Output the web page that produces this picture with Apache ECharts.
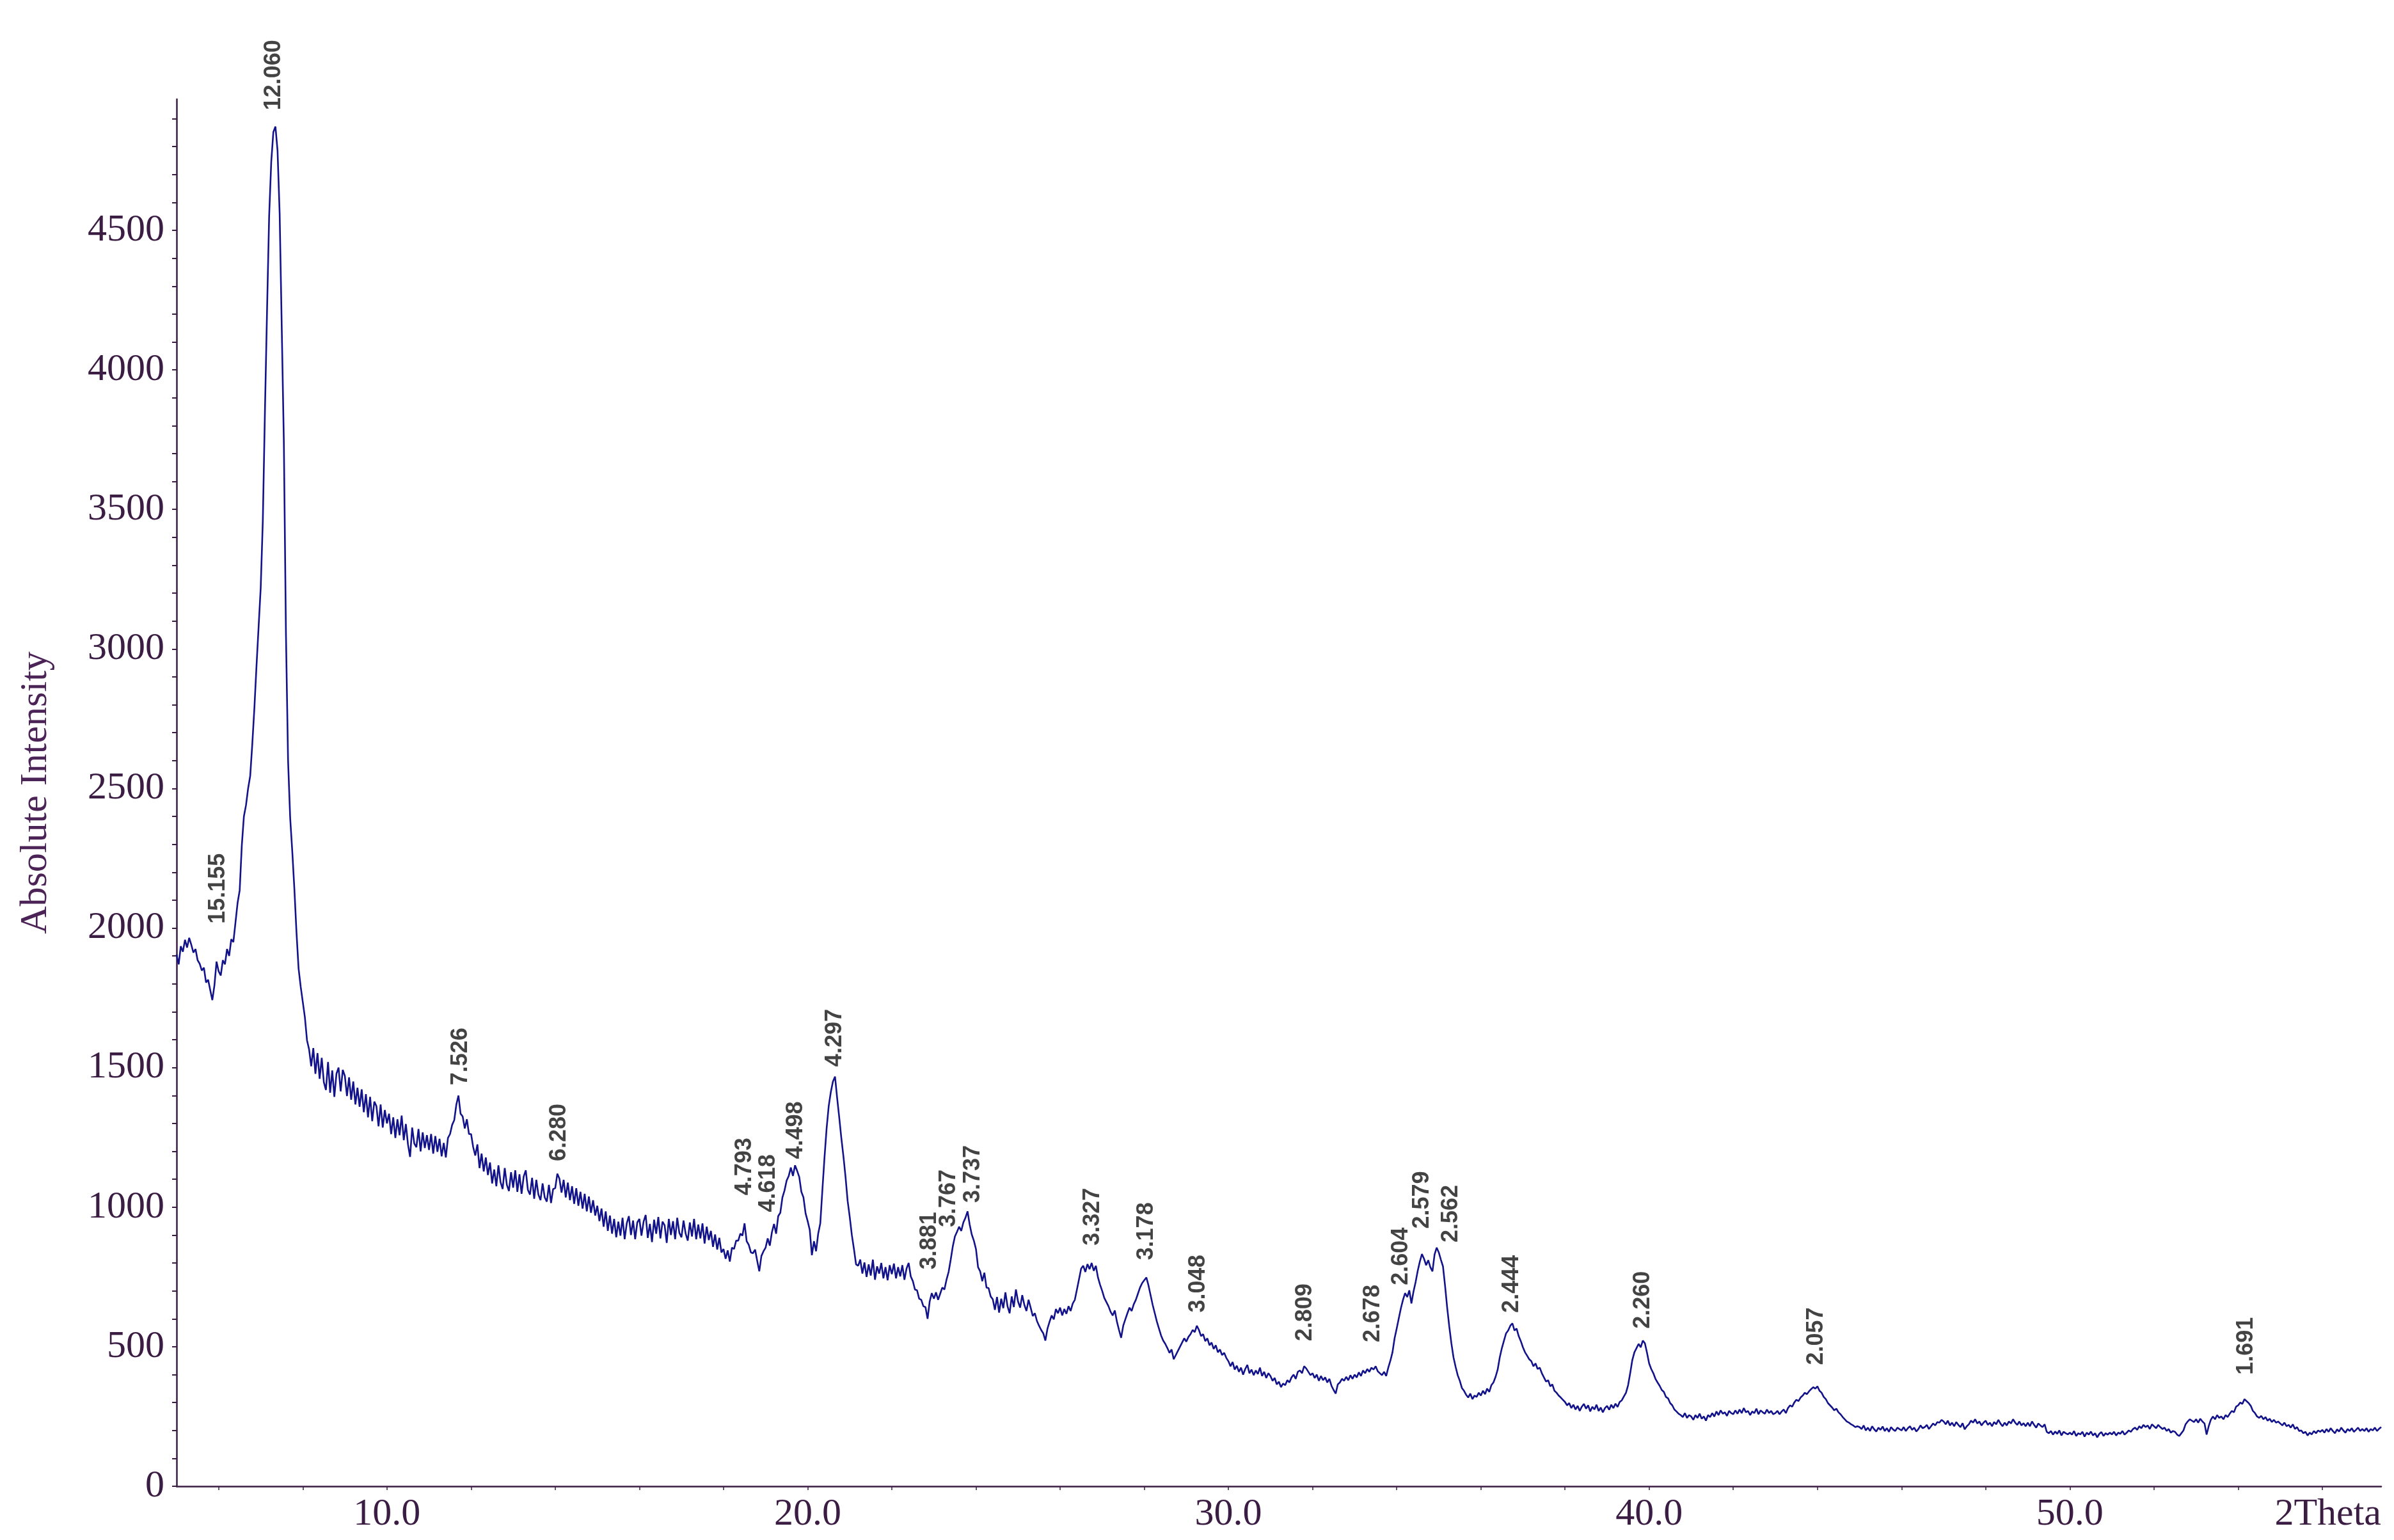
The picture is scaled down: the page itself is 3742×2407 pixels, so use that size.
<!DOCTYPE html>
<html>
<head>
<meta charset="utf-8">
<title>XRD pattern</title>
<script src="https://cdn.jsdelivr.net/npm/echarts@6/dist/echarts.min.js"></script>
<style>
  html, body { margin: 0; padding: 0; background: #ffffff; }
  #chart { width: 3742px; height: 2407px; }
</style>
</head>
<body>
<div id="chart"></div>
<script>
// Scan grid (degrees 2-theta): one count every 0.05 deg from 5.00 to 57.40
const twoThetaStart = 5.0;
const twoThetaStep = 0.05;

// Counts, one row per degree (20 readings each)
const counts05to15 = [
  1905,1870,1935,1915,1958,1930,1965,1940,1912,1925,1885,1872,1848,1858,1805,1815,1778,1742,1795,1880,
  1845,1830,1885,1870,1925,1900,1960,1950,2020,2090,2135,2295,2400,2440,2500,2545,2660,2790,2940,3080,
  3220,3460,3850,4210,4550,4745,4852,4872,4785,4560,4150,3740,3050,2600,2395,2275,2140,1985,1855,1790,
  1735,1680,1598,1565,1505,1570,1478,1552,1460,1535,1448,1420,1520,1410,1490,1395,1478,1500,1415,1492,
  1470,1398,1465,1385,1450,1368,1428,1360,1422,1340,1405,1322,1395,1308,1378,1362,1290,1368,1285,1348,
  1300,1335,1262,1322,1248,1315,1258,1328,1240,1298,1225,1180,1285,1228,1215,1280,1200,1268,1212,1258,
  1205,1262,1192,1255,1198,1245,1182,1230,1178,1248,1262,1295,1312,1368,1400,1335,1325,1282,1315,1262,
  1262,1215,1185,1225,1140,1192,1128,1178,1115,1160,1085,1135,1075,1150,1090,1065,1140,1080,1058,1125,
  1070,1132,1055,1118,1048,1110,1132,1062,1045,1105,1030,1098,1045,1025,1085,1035,1020,1080,1015,1065,
  1068,1120,1102,1052,1098,1035,1088,1025,1075,1012,1068,1005,1055,995,1048,985,1038,980,1025,970
];
const counts15to25 = [
  1005,950,995,930,985,915,970,905,958,892,948,898,962,885,942,968,900,952,885,945,
  958,898,948,972,890,940,875,955,905,965,888,948,935,872,958,900,950,885,962,908,
  892,952,905,880,945,895,958,885,938,888,942,870,930,882,915,858,902,848,890,838,
  850,815,845,805,855,850,880,880,905,898,942,878,865,838,835,848,808,770,825,842,
  855,888,862,910,940,905,968,980,1035,1060,1095,1112,1142,1112,1150,1130,1108,1055,1035,978,
  950,918,828,878,842,905,942,1062,1178,1282,1362,1412,1450,1468,1392,1322,1248,1182,1108,1022,
  965,900,850,795,790,812,762,802,750,795,755,812,740,788,762,800,745,785,738,792,
  760,798,745,785,752,792,740,780,800,752,735,705,702,672,668,645,642,600,662,692,
  672,695,668,690,712,705,740,768,812,860,895,912,930,915,945,962,985,938,902,880,
  850,785,770,735,765,712,710,680,670,632,678,622,672,638,695,645,620,680,642,705
];
const counts25to35 = [
  662,640,685,650,628,668,640,610,620,592,575,560,548,522,565,590,612,598,635,620,
  640,612,635,618,645,628,655,668,705,742,780,790,768,796,778,800,772,790,748,722,
  700,675,660,645,625,612,630,590,560,532,575,598,620,640,628,652,668,690,712,728,
  738,748,720,685,650,620,590,565,540,522,510,495,478,490,455,470,485,500,515,530,
  518,535,545,560,552,575,560,538,545,520,530,505,515,492,505,480,490,470,478,460,
  448,430,445,418,432,410,425,400,420,435,405,418,398,415,402,425,395,410,388,405,
  395,378,388,365,375,355,368,362,380,372,390,400,385,410,415,405,430,422,410,398,
  405,388,400,378,395,380,390,372,385,360,345,332,365,372,385,378,392,380,398,385,
  400,390,408,395,415,405,420,410,425,418,430,412,405,398,410,395,425,450,480,530,
  565,602,638,668,692,678,702,655,698,732,772,805,832,815,792,810,785,770,830,855
];
const counts35to45 = [
  838,812,788,718,640,572,512,462,428,398,378,352,342,328,318,332,312,325,320,335,
  325,342,330,350,338,362,372,392,418,462,495,522,548,558,575,584,558,565,538,520,
  498,480,468,455,448,430,440,420,425,405,390,375,380,358,365,342,335,325,318,310,
  302,290,298,280,292,275,288,270,285,295,278,290,268,285,275,292,270,282,265,280,
  288,274,292,280,296,284,302,308,322,335,362,405,452,480,495,510,498,522,512,478,
  440,420,405,385,372,360,345,338,320,315,298,290,275,268,260,255,248,262,245,255,
  250,238,255,245,260,242,250,235,255,248,262,250,268,255,272,260,265,252,270,262,
  258,272,260,275,262,280,265,270,255,268,262,278,258,272,265,260,275,262,270,258,
  262,270,258,268,275,262,280,290,285,300,310,305,318,325,335,330,340,348,355,350,
  358,342,335,320,312,298,290,282,272,278,265,258,248,240,232,228,222,218,212,215
];
const counts45to57 = [
  212,205,218,200,210,198,215,204,196,210,202,214,198,208,195,212,203,198,210,205,
  200,212,198,208,215,202,210,196,205,218,208,212,220,205,215,225,218,230,228,238,
  232,222,235,218,228,215,230,220,212,226,204,215,222,235,228,240,225,232,218,228,
  235,220,228,215,230,222,238,225,215,228,218,232,225,240,228,220,232,218,226,215,
  228,215,232,220,210,225,218,212,222,195,190,198,185,196,188,200,182,195,190,186,
  192,185,198,180,190,186,195,178,192,185,196,182,190,175,188,194,180,190,185,192,
  186,195,182,192,188,198,185,192,200,195,205,210,202,215,208,220,212,218,205,222,
  215,208,220,212,205,210,198,205,192,198,195,185,180,190,200,222,232,240,235,230,
  240,228,242,232,225,185,215,238,250,240,255,245,250,240,255,248,260,270,265,285,
  290,300,295,312,305,298,288,270,262,250,245,252,240,248,235,242,230,238,228,232,
  225,218,228,215,220,210,222,205,212,198,200,190,195,182,192,186,198,190,200,195,
  202,192,205,195,208,198,190,204,196,210,200,192,205,198,208,195,202,210,198,205,
  198,208,195,205,200,210,198,206,212
];

// Indexed reflections: d-spacing text (Angstrom), 2-theta position, top of peak
const peakLabels = ['15.155','12.060','7.526','6.280','4.793','4.618','4.498','4.297',
  '3.881','3.767','3.737','3.327','3.178','3.048','2.809','2.678','2.604','2.579','2.562',
  '2.444','2.260','2.057','1.691'];
const peakTwoTheta = [5.83,7.32,11.75,14.09,18.50,19.20,19.72,20.65,
  22.90,23.60,23.79,26.78,28.06,29.28,31.83,33.43,34.41,34.76,34.99,
  36.74,39.86,43.98,54.19];
const peakTop = [1980,4895,1401,1129,1007,947,1137,1468,
  741,893,980,827,775,587,484,480,685,887,838,
  586,529,399,364];

// Axis ticks
const yLabelValues = [0,500,1000,1500,2000,2500,3000,3500,4000,4500];
const xLabelValues = [10,20,30,40,50];
const xTickValues = [6,8,10,12,14,16,18,20,22,24,26,28,30,32,34,36,38,40,42,44,46,48,50,52,54,56];

// Plot frame (px) and axis ranges
const frame = { left: 276, right: 20, top: 155, bottom: 84 };
const xRange = [5, 57.4];
const yRange = [0, 4970];
const chartWidth = 3742;

// Sideways nudges (px) so neighbouring labels do not collide
const labelNudge = { '15.155': 10, '4.618': -9, '3.767': -16, '3.737': 9, '2.604': -20, '2.579': -10, '2.562': 20 };
const pxPerDegree = (chartWidth - frame.left - frame.right) / (xRange[1] - xRange[0]);

const counts = [].concat(counts05to15, counts15to25, counts25to35, counts35to45, counts45to57);
const pattern = counts.map((c, i) => [+(twoThetaStart + i * twoThetaStep).toFixed(2), c]);
// Label anchors sit at each peak, shifted sideways by the nudge where needed
const labelAnchors = peakTwoTheta.map((t, i) => [t + (labelNudge[peakLabels[i]] || 0) / pxPerDegree, peakTop[i]]);

const yTickValues = [];
for (let v = 0; v <= 4900; v += 100) yTickValues.push(v);

const axisColor = '#3b1d44';
const serif = '"Liberation Serif", "Times New Roman", serif';

const chart = echarts.init(document.getElementById('chart'), null, { renderer: 'canvas' });
chart.setOption({
  animation: false,
  backgroundColor: '#ffffff',
  grid: { left: frame.left, right: frame.right, top: frame.top, bottom: frame.bottom, containLabel: false },
  xAxis: {
    type: 'value',
    min: xRange[0],
    max: xRange[1],
    name: '2Theta',
    nameLocation: 'end',
    nameGap: 0,
    nameTextStyle: { fontFamily: serif, fontSize: 60, color: '#3b1d44', align: 'right', verticalAlign: 'top', padding: [14, 0, 0, 0] },
    axisLine: { show: true, onZero: false, lineStyle: { color: axisColor, width: 2.5 } },
    axisTick: { show: true, inside: false, length: 6, customValues: xTickValues, lineStyle: { color: axisColor, width: 1.5 } },
    axisLabel: { show: true, margin: 14, customValues: xLabelValues, formatter: v => Number(v).toFixed(1),
      fontFamily: serif, fontSize: 60, color: '#3b1d44' },
    splitLine: { show: false }
  },
  yAxis: {
    type: 'value',
    min: yRange[0],
    max: yRange[1],
    name: 'Absolute Intensity',
    nameLocation: 'middle',
    nameGap: 190,
    nameTextStyle: { fontFamily: serif, fontSize: 60, color: '#4c2357' },
    axisLine: { show: true, onZero: false, lineStyle: { color: axisColor, width: 2.5 } },
    axisTick: { show: true, inside: false, length: 7, customValues: yTickValues, lineStyle: { color: axisColor, width: 2 } },
    axisLabel: { show: true, margin: 19, customValues: yLabelValues, formatter: v => String(v),
      fontFamily: serif, fontSize: 60, color: '#3b1d44' },
    splitLine: { show: false }
  },
  series: [
    {
      type: 'line',
      data: pattern,
      showSymbol: false,
      symbol: 'none',
      sampling: null,
      lineStyle: { color: '#12128a', width: 2.6 },
      z: 2
    },
    {
      type: 'scatter',
      data: labelAnchors,
      symbolSize: 1,
      itemStyle: { color: 'rgba(0,0,0,0)' },
      label: {
        show: true,
        formatter: p => peakLabels[p.dataIndex],
        position: 'top',
        distance: 15,
        rotate: 90,
        align: 'left',
        verticalAlign: 'middle',
        fontFamily: '"Liberation Sans", Arial, sans-serif',
        fontWeight: 'bold',
        fontSize: 36,
        color: '#141414'
      },
      z: 3
    }
  ]
});
</script>
</body>
</html>
